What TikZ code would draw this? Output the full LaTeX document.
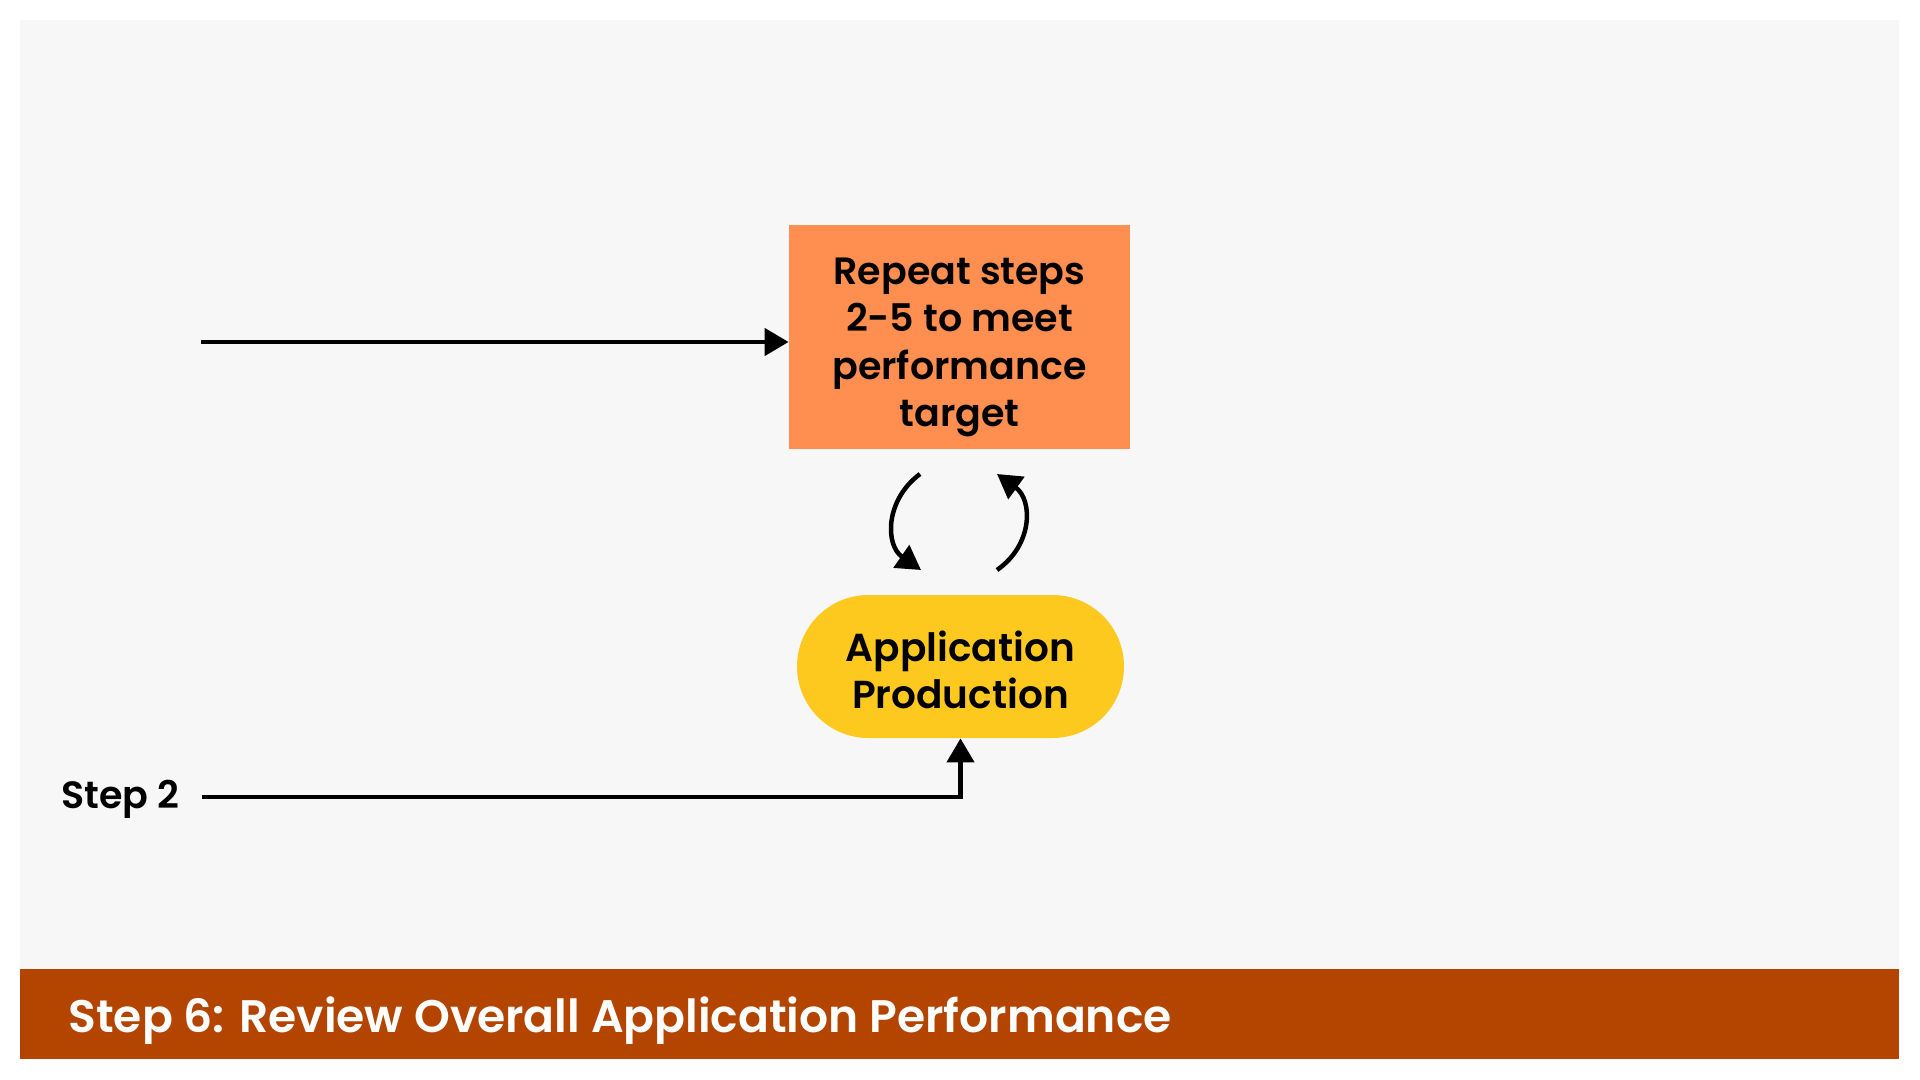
\documentclass[tikz,border=0pt]{standalone}
\usepackage{fontspec}
\setmainfont{Poppins}[BoldFont={Poppins SemiBold}]
\usetikzlibrary{arrows.meta,positioning}
\definecolor{panelgray}{HTML}{F7F7F7}
\definecolor{repeatorange}{HTML}{FF8F50}
\definecolor{prodyellow}{HTML}{FEC91F}
\definecolor{bannerrust}{HTML}{B34500}
\tikzset{
  flow/.style={line width=2.25pt,-{Triangle[length=12pt,width=13.5pt]}},
  repeatbox/.style={fill=repeatorange,minimum width=170.5pt,minimum height=112pt,
    text height=92pt,text depth=2.5pt,
    align=center,font=\bfseries\fontsize{19}{23.75}\selectfont},
  prodbox/.style={fill=prodyellow,minimum width=163.5pt,minimum height=71.5pt,
    text height=44pt,text depth=2.5pt,
    rounded corners=35.75pt,align=center,font=\bfseries\fontsize{19.5}{23.5}\selectfont},
  steplabel/.style={inner sep=0pt,font=\bfseries\fontsize{19}{22}\selectfont},
  bannertext/.style={inner sep=0pt,text=white,font=\bfseries\fontsize{22.8}{28}\selectfont}
}
\begin{document}
\begin{tikzpicture}[x=0.5pt,y=-0.5pt]
    \useasboundingbox (0,0) rectangle (1920,1080);
    % panel and banner
    \fill[panelgray] (20,20) rectangle (1899,969);
    \fill[bannerrust] (20,969) rectangle (1899,1059);
    \node[bannertext,anchor=base west] (title) at (68,1032) {Step 6: Review Overall Application Performance};
    % boxes
    \node[repeatbox] (repeat) at (959.5,337) {Repeat steps\\2-5 to meet\\performance\\target};
    \node[prodbox] (prod) at (960.5,666.5) {Application\\Production};
    \node[steplabel,anchor=base east] (step2) at (180,808) {Step 2};
    % free ends
    \coordinate (feed) at (201,342);
    \coordinate (s2start) at (202,797);
    \coordinate (loopa) at (920,474);
    \coordinate (loopb) at (921,570);
    \coordinate (loopc) at (997,570);
    \coordinate (loopd) at (997,474);
    % connectors
    \draw[flow] (feed) -- (feed -| repeat.west);
    \draw[flow] (s2start) -| (prod.south);
    \draw[flow] (loopa) .. controls (885,500) and (885,545) .. (loopb);
    \draw[flow] (loopc) .. controls (1033,545) and (1033,500) .. (loopd);
\end{tikzpicture}
\end{document}
